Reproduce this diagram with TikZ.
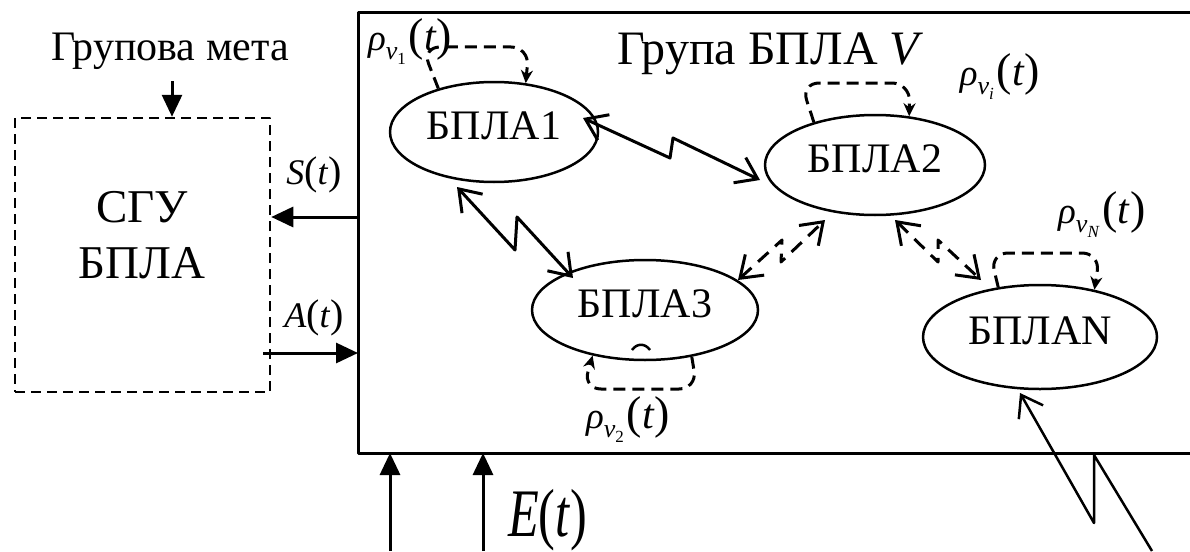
\documentclass[tikz,border=0pt]{standalone}
\usepackage{fontspec}
\setmainfont{Liberation Serif}
\usetikzlibrary{arrows.meta,shapes.geometric,calc}
\newcommand\fs[1]{\fontsize{#1}{#1}\selectfont}
\newcommand\rlab[1]{{\fs{37}\textit{ρ}}\raisebox{-9pt}{\fs{26}\textit{v}\raisebox{-5pt}{\fs{17}#1}}\kern3pt{\fs{46}(}{\fs{42}\textit{t}}{\fs{46})}}
\begin{document}
\begin{tikzpicture}[x=1pt,y=-1pt,line join=round]
\tikzset{
 uav/.style={ellipse, draw, line width=2.5pt, inner sep=0pt, font=\fs{42}, text depth=12pt},
 frame/.style={line width=3pt},
 solidarr/.style={line width=3pt, -{Triangle[length=22pt,width=20pt]}},
 zig/.style={line width=3pt, {Straight Barb[length=20pt,width=28pt]}-{Straight Barb[length=20pt,width=28pt]}},
 zigd/.style={zig, dash pattern=on 14pt off 9pt},
 selfloop/.style={line width=3pt, dash pattern=on 12pt off 7pt, rounded corners=18pt, -{Stealth[length=13pt,width=12pt]}},
 lbl/.style={inner sep=0pt},
}
\useasboundingbox (0,0) rectangle (1190,551);
% frame of the group
\coordinate (frTR) at (1192,13);
\coordinate (frTL) at (358,13);
\coordinate (frBL) at (358,453);
\coordinate (frBR) at (1192,453);
\draw[frame] (frTR) -- (frTL) -- (frBL) -- (frBR);
% control system box
\node[draw, line width=2.5pt, dash pattern=on 10pt off 6pt, minimum width=255pt, minimum height=274pt, inner sep=0pt] (sgu) at (142.5,255) {};
\node[lbl, font=\fs{47}, anchor=base] (sgu1) at (142,222) {СГУ};
\node[lbl, font=\fs{47}, anchor=base] (sgu2) at (142,278) {БПЛА};
\node[lbl, font=\fs{42}, anchor=base] (goal) at (170,60) {Групова мета};
\node[lbl, font=\fs{48}, anchor=base west] (title) at (617,64) {Група БПЛА \textit{V}};
% UAV nodes
\node[uav, minimum width=208pt, minimum height=100pt] (b1) at (494,132) {БПЛА1};
\node[uav, minimum width=220pt, minimum height=100pt] (b2) at (875,165) {БПЛА2};
\node[uav, minimum width=226pt, minimum height=100pt] (b3) at (645,310) {БПЛА3};
\node[uav, minimum width=234pt, minimum height=104pt] (bN) at (1040,337) {БПЛАN};
\draw[line width=2.5pt] (632,350) .. controls (637,343) and (645,343) .. (650,350);
% labels
\node[lbl] (r1) at (410,42) {\rlab{1}};
\node[lbl] (ri) at (1000,77) {\rlab{\textit{i}}};
\node[lbl] (rN) at (1102,215) {\rlab{\textit{N}}};
\node[lbl] (r2) at (628,420) {\rlab{2}};
\node[lbl] (st) at (314,175) {{\fs{36}\textit{S}}{\fs{40}(}{\fs{36}\textit{t}}{\fs{40})}};
\node[lbl] (at) at (314,318) {{\fs{36}\textit{A}}{\fs{40}(}{\fs{36}\textit{t}}{\fs{40})}};
\node[lbl, anchor=base west] (et) at (508,536) {\scalebox{0.74}[1]{{\fs{68}\textit{E}}{\fs{68}(}{\fs{68}\textit{t}}{\fs{68})}}};
% arrows to and from the control box
\draw[solidarr] ($(goal.south)+(2,12)$) -- (sgu.north -| 172,0);
\draw[solidarr] (frTL |- 0,217) -- (sgu.east |- 0,217);
\draw[solidarr] (263,353) -- (frTL |- 0,353);
\draw[solidarr] (390,551) -- (frBL -| 390,0);
\draw[solidarr] (483,551) -- (frBL -| 483,0);
% self loops
\draw[selfloop] (b1.142) -- (422,47) -- (529,47) -- (b1.57);
\draw[selfloop] (b2.145) -- (801,83) -- (910,83) -- (b2.55);
\draw[selfloop] (bN.130) -- (990,253) -- (1100,253) -- (bN.41);
\draw[selfloop] (b3.-45) -- (697,389) -- (583,389) -- (b3.221);
% links
\draw[zig] ($(b1)+(89,-14)$) -- (670,158) -- (673,138) -- ($(b2)+(-115,15)$);
\draw[zig] ($(b1)+(-37,55)$) -- (515,250) -- (517,217) -- ($(b3)+(-72,-32)$);
\draw[zigd] ($(b3)+(93,-30)$) -- (782,240) -- (781,262) -- ($(b2)+(-50,55)$);
\draw[zigd] ($(b2)+(20,55)$) -- (938,262) -- (938,240) -- ($(bN)+(-59,-57)$);
\draw[line width=2.5pt, {Straight Barb[length=20pt,width=28pt]}-] ($(bN)+(-20,56)$) -- (1094,523) -- (1094,455) -- (1152,551);
\end{tikzpicture}
\end{document}
